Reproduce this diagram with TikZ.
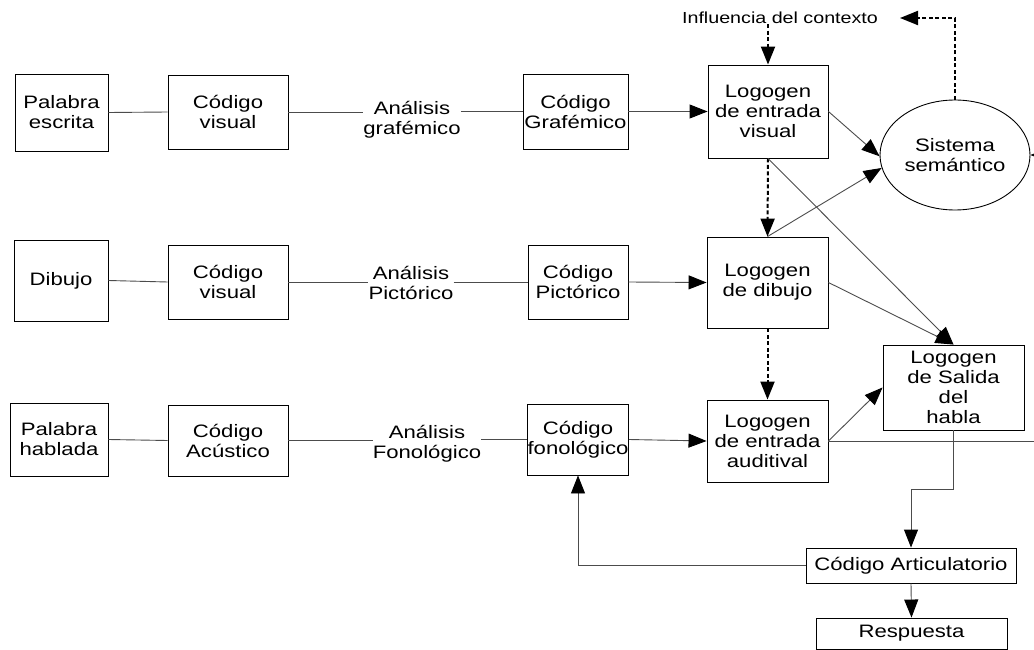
\documentclass[tikz,border=0pt]{standalone}
\usepackage{fontspec}
\setmainfont{Liberation Sans}[FakeStretch=1.23]
\usetikzlibrary{arrows.meta,shapes.geometric}
\begin{document}
\begin{tikzpicture}[x=1pt,y=-1pt,
  txt/.style={font=\fontsize{18}{20}\selectfont},
  box/.style={txt,draw=black,line width=0.9pt,rectangle,inner sep=0pt,align=center},
  lbl/.style={txt,inner sep=0pt,align=center},
  conn/.style={draw=black!70,line width=0.9pt},
  tip/.style={-{Triangle[length=18pt 0 0,width=14pt 0 0,color=black]}},
  arr/.style={conn,tip},
  dasharr/.style={draw=black,line width=2pt,dash pattern=on 4pt off 2.5pt,tip}
]
\useasboundingbox (0,0) rectangle (1034,650);
% row 1
\node[box,minimum width=93pt,minimum height=77pt] (pe) at (61.5,112.5) {Palabra\\escrita};
\node[box,minimum width=120pt,minimum height=74pt] (cv1) at (228,112) {Código\\visual};
\node[lbl] (ag) at (412,120) {Análisis\\grafémico};
\node[box,minimum width=105pt,minimum height=75pt] (cgraf) at (575.5,111.5) {Código\\Grafémico};
\node[box,minimum width=120pt,minimum height=93pt] (lve) at (768,111.5) {Logogen\\de entrada\\visual};
\node[txt,draw=black,line width=0.9pt,ellipse,inner sep=0pt,minimum width=150pt,minimum height=110pt,align=center] (ss) at (955,155) {Sistema\\semántico};
\node[inner sep=0pt,font=\fontsize{16}{19}\selectfont] (ctx) at (780,18) {Influencia del contexto};
% row 2
\node[box,minimum width=94pt,minimum height=81pt] (dib) at (61,280.5) {Dibujo};
\node[box,minimum width=120pt,minimum height=74pt] (cv2) at (228,282) {Código\\visual};
\node[lbl] (ap) at (411,283) {Análisis\\Pictórico};
\node[box,minimum width=100pt,minimum height=74pt] (cpic) at (578,282) {Código\\Pictórico};
\node[box,minimum width=121pt,minimum height=91pt] (ld) at (767.5,282.5) {Logogen\\de dibujo};
% row 3
\node[box,minimum width=98pt,minimum height=73pt] (ph) at (59,439.5) {Palabra\\hablada};
\node[box,minimum width=120pt,minimum height=71pt] (ca) at (228,440.5) {Código\\Acústico};
\node[lbl] (af) at (427,444) {Análisis\\Fonológico};
\node[box,minimum width=100pt,minimum height=71pt] (cf) at (578,439.5) {Código\\fonológico};
\node[box,minimum width=121pt,minimum height=82pt] (la) at (767.5,441) {Logogen\\de entrada\\auditival};
\node[box,minimum width=141pt,minimum height=85pt] (ls) at (953.5,387.5) {Logogen\\de Salida\\del\\habla};
\node[box,minimum width=210pt,minimum height=35pt] (cart) at (911,565.5) {Código Articulatorio};
\node[box,minimum width=191pt,minimum height=31pt] (resp) at (911.5,633.5) {Respuesta};
% coordinates
\coordinate (ctxend) at (900,18);
\coordinate (rin) at (1045,155);
\coordinate (rout) at (1034,441);
\coordinate (bend) at (911,489);
% row connectors
\draw[conn] (pe.east) -- (cv1.west);
\draw[conn] (cv1.east) -- (ag.west |- cv1.east);
\draw[conn] (ag.east |- cgraf.west) -- (cgraf.west);
\draw[arr] (cgraf.east) -- (lve.west);
\draw[conn] (dib.east) -- (cv2.west);
\draw[conn] (cv2.east) -- (ap.west |- cv2.east);
\draw[conn] (ap.east |- cpic.west) -- (cpic.west);
\draw[arr] (cpic.east) -- (ld.west);
\draw[conn] (ph.east) -- (ca.west);
\draw[conn] (ca.east) -- (af.west |- ca.east);
\draw[conn] (af.east |- cf.west) -- (cf.west);
\draw[arr] (cf.east) -- (la.west);
% dashed
\draw[dasharr] (lve.north |- ctx.south) -- (lve.north);
\draw[dasharr] (ss.north) |- (ctxend);
\draw[dasharr] (lve.south) -- (ld.north);
\draw[dasharr] (ld.south) -- (la.north);
% logogen connections
\draw[arr] (lve.east) -- (ss.181);
\draw[arr] (ld.north) -- (ss.190);
\draw[arr] (lve.south) -- (ls.north);
\draw[arr] (ld.east) -- (ls.north);
\draw[arr] (la.east) -- (ls.west);
\draw[conn] (la.east) -- (rout);
\draw[arr] (rin) -- (ss.east);
\draw[arr] (ls.south) |- (bend) -- (cart.north);
\draw[arr] (cart.south) -- (resp.north);
\draw[arr] (cart.west) -| (cf.south);
\end{tikzpicture}
\end{document}
